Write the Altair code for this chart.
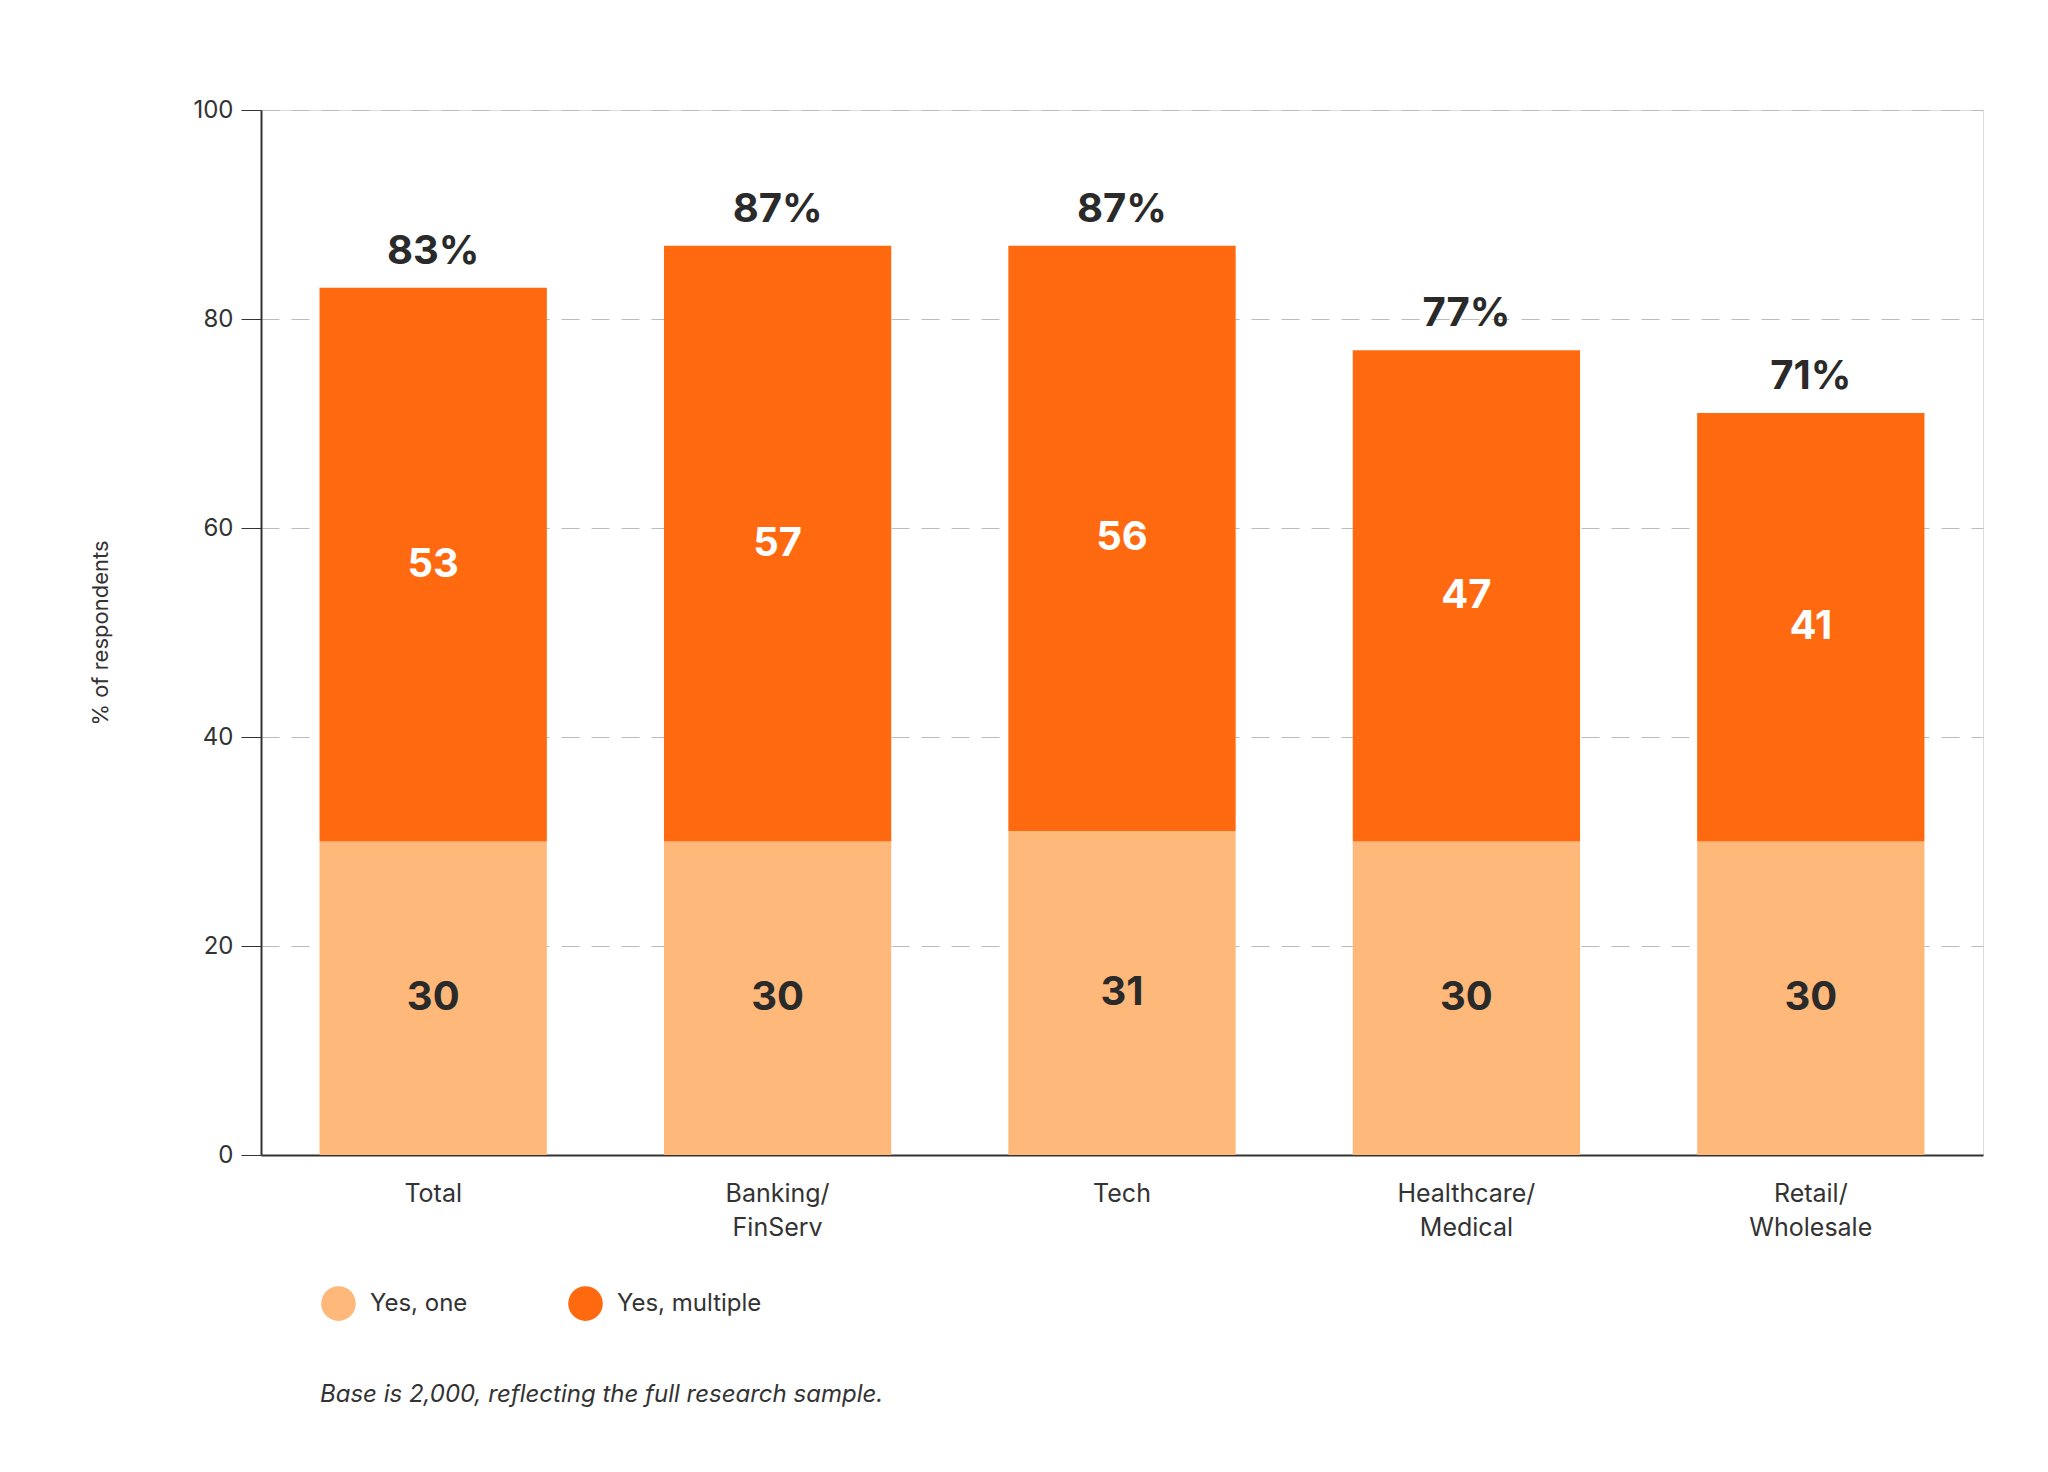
import altair as alt
import pandas as pd

categories = ["Total", "Banking/\nFinServ", "Tech", "Healthcare/\nMedical", "Retail/\nWholesale"]
yes_one = [30, 30, 31, 30, 30]
yes_multiple = [53, 57, 56, 47, 41]
totals = [83, 87, 87, 77, 71]
series = ["Yes, one", "Yes, multiple"]
colors = ["#FDB87A", "#FF690F"]

FONT = "Inter"

rows = []
for c, a, b in zip(categories, yes_one, yes_multiple):
    rows.append({"cat": c, "series": "Yes, one", "v0": 0, "v1": a, "val": a, "mid": a / 2})
    rows.append({"cat": c, "series": "Yes, multiple", "v0": a, "v1": a + b, "val": b, "mid": a + b / 2})
df = pd.DataFrame(rows)
tot = pd.DataFrame({"cat": categories, "total": totals, "label": [f"{t}%" for t in totals]})

x = alt.X("cat:N", sort=categories, title=None,
          scale=alt.Scale(paddingInner=0.34, paddingOuter=0.17),
          axis=alt.Axis(labelAngle=0, labelExpr="split(datum.label, '\\n')", labelFontSize=25,
                        labelColor="#333", labelFont=FONT, ticks=False, domain=True,
                        domainColor="#333", domainWidth=2, labelPadding=26, labelLineHeight=34))
y = alt.Y("v0:Q", title="% of respondents", scale=alt.Scale(domain=[0, 100]),
          axis=alt.Axis(values=[0, 20, 40, 60, 80, 100], labelFontSize=24, labelColor="#333",
                        labelFont=FONT, titleFont=FONT, titleFontSize=22, titleFontWeight="normal",
                        titleColor="#333", titlePadding=80, gridDash=[18, 12], gridColor="#bbb",
                        domainColor="#333", domainWidth=2, tickColor="#333", tickSize=20,
                        labelPadding=8))

bars = alt.Chart(df).mark_bar().encode(
    x=x, y=y, y2="v1:Q",
    color=alt.Color("series:N", sort=series, scale=alt.Scale(domain=series, range=colors),
                    legend=alt.Legend(title=None, orient="none", legendX=60, legendY=1176,
                                      direction="horizontal", symbolType="circle", symbolSize=1200,
                                      symbolStrokeWidth=0, labelFontSize=24, labelFont=FONT,
                                      labelColor="#333", columnPadding=100, labelOffset=14)),
)

seg_text = alt.Chart(df).mark_text(font=FONT, fontSize=40, fontWeight="bold").encode(
    x=alt.X("cat:N", sort=categories), y=alt.Y("mid:Q"), text="val:Q",
    color=alt.Color("series:N", scale=alt.Scale(domain=series, range=["#2a2a2a", "white"]), legend=None),
)

tot_text = alt.Chart(tot).mark_text(font=FONT, fontSize=40, fontWeight="bold", color="#2a2a2a", dy=-36).encode(
    x=alt.X("cat:N", sort=categories), y=alt.Y("total:Q"), text="label:N",
)

note = alt.Chart(pd.DataFrame({"t": ["Base is 2,000, reflecting the full research sample."]})).mark_text(
    font=FONT, fontSize=24, fontStyle="italic", color="#333", align="left"
).encode(x=alt.value(59), y=alt.value(1285), text="t:N")

chart = alt.layer(bars, seg_text, tot_text, note).resolve_scale(color="independent").properties(
    width=1722, height=1045, autosize=alt.AutoSizeParams(type="none"),
    padding={"left": 253, "top": 102, "right": 40, "bottom": 310},
).configure_view(stroke=None).configure(background="white")

chart.save("out.html", embed_options={"renderer": "svg", "actions": False})
